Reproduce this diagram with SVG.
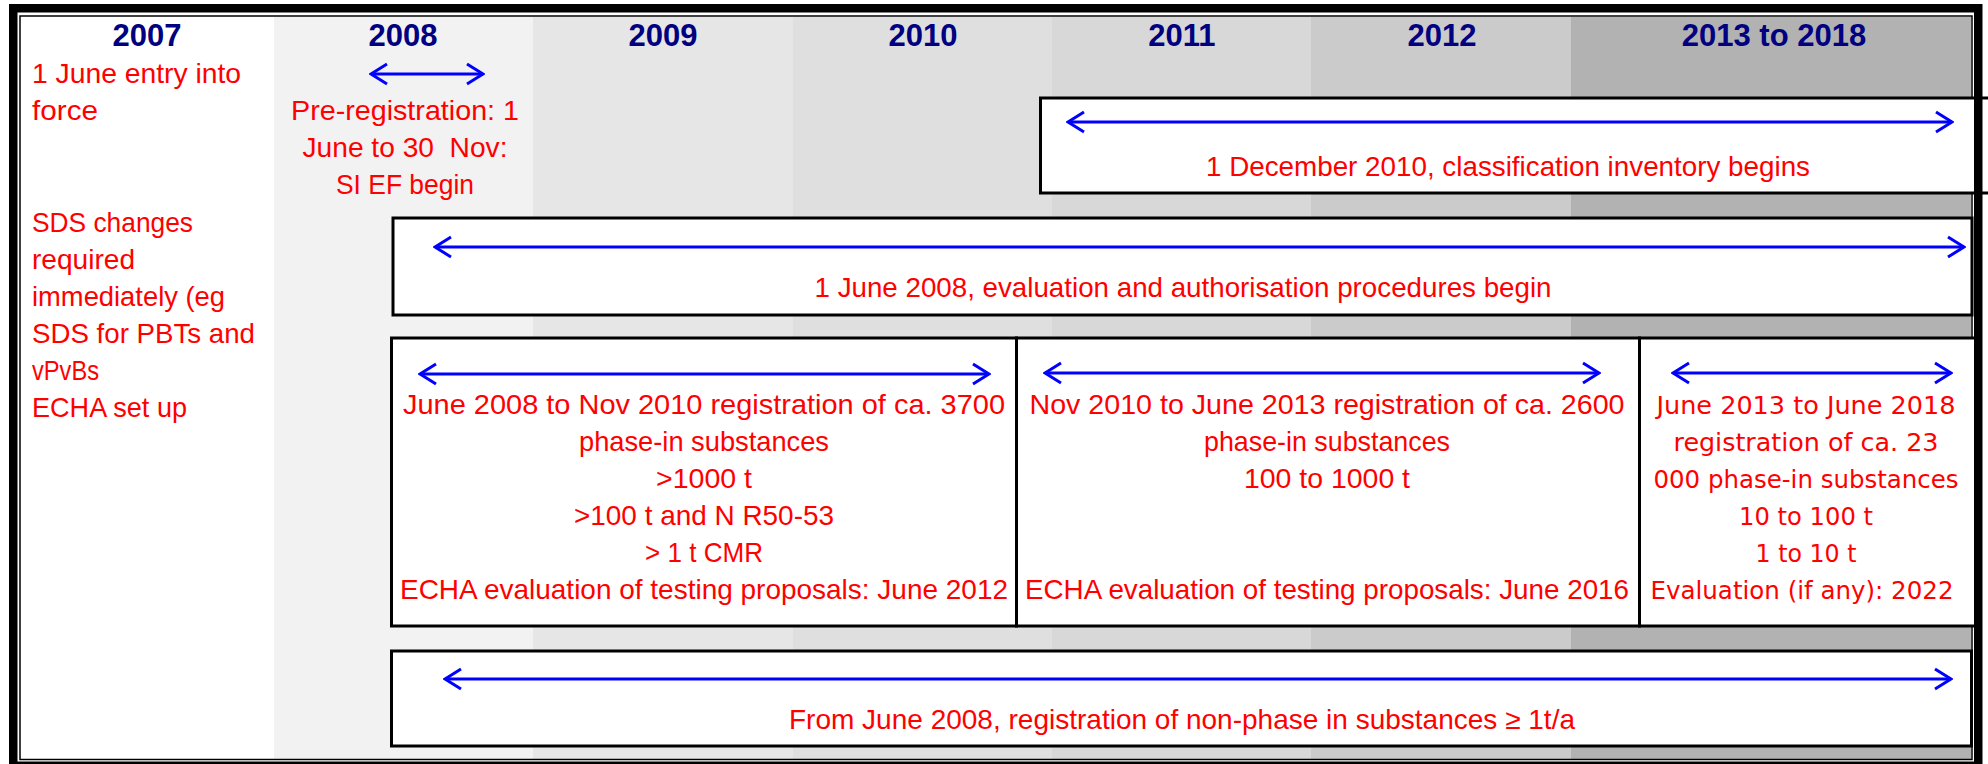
<svg xmlns="http://www.w3.org/2000/svg" width="1988" height="764" viewBox="0 0 1988 764">
<style>
.yr{font-family:"Liberation Sans",Arial,sans-serif;font-weight:bold;font-size:31px;fill:#000080;text-anchor:middle}
.t{font-family:"Liberation Sans",Arial,sans-serif;font-size:28px;fill:#ff0000;white-space:pre}
.v{font-family:"DejaVu Sans",Verdana,sans-serif;font-size:25px;fill:#ff0000;text-anchor:middle;white-space:pre}
.m{text-anchor:middle}
.box{fill:#ffffff;stroke:#000000;stroke-width:3}
.arr{stroke:#0000ff;stroke-width:3;fill:none;marker-start:url(#ah);marker-end:url(#ah)}
</style>
<defs>
<marker id="ah" viewBox="0 0 20 24" refX="18" refY="12" markerWidth="20" markerHeight="24" markerUnits="userSpaceOnUse" orient="auto-start-reverse">
<path d="M2,2 L18,12 L2,22" fill="none" stroke="#0000ff" stroke-width="3"/>
</marker>
</defs>
<rect x="0" y="0" width="1988" height="764" fill="#ffffff"/>
<g id="bands">
<rect x="21" y="17" width="253" height="742" fill="#ffffff"/>
<rect x="274" y="17" width="259" height="742" fill="#f2f2f2"/>
<rect x="533" y="17" width="260" height="742" fill="#e6e6e6"/>
<rect x="793" y="17" width="259" height="742" fill="#dfdfdf"/>
<rect x="1052" y="17" width="259" height="742" fill="#d8d8d8"/>
<rect x="1311" y="17" width="260" height="742" fill="#cbcbcb"/>
<rect x="1571" y="17" width="400" height="742" fill="#b2b2b2"/>
</g>
<rect id="inner-frame" x="20" y="16" width="1952" height="743.5" fill="none" stroke="#000000" stroke-width="1.5"/>
<g id="years">
<text class="yr" x="147" y="46">2007</text>
<text class="yr" x="403" y="46">2008</text>
<text class="yr" x="663" y="46">2009</text>
<text class="yr" x="923" y="46">2010</text>
<text class="yr" x="1182" y="46">2011</text>
<text class="yr" x="1442" y="46">2012</text>
<text class="yr" x="1774" y="46">2013 to 2018</text>
</g>
<g id="entry-into-force">
<text class="t" x="32" y="83" textLength="209" lengthAdjust="spacingAndGlyphs">1 June entry into</text>
<text class="t" x="32" y="120" textLength="66" lengthAdjust="spacingAndGlyphs">force</text>
</g>
<g id="sds-changes">
<text class="t" x="32" y="232" textLength="161" lengthAdjust="spacingAndGlyphs">SDS changes</text>
<text class="t" x="32" y="269" textLength="103" lengthAdjust="spacingAndGlyphs">required</text>
<text class="t" x="32" y="306" textLength="193" lengthAdjust="spacingAndGlyphs">immediately (eg</text>
<text class="t" x="32" y="343" textLength="223" lengthAdjust="spacingAndGlyphs">SDS for PBTs and</text>
<text class="t" x="32" y="380" textLength="67" lengthAdjust="spacingAndGlyphs">vPvBs</text>
<text class="t" x="32" y="417" textLength="155" lengthAdjust="spacingAndGlyphs">ECHA set up</text>
</g>
<g id="pre-registration">
<text class="t m" x="405" y="120" textLength="228" lengthAdjust="spacingAndGlyphs">Pre-registration: 1</text>
<text class="t m" x="405" y="157" textLength="205" lengthAdjust="spacingAndGlyphs">June to 30  Nov:</text>
<text class="t m" x="405" y="194" textLength="138" lengthAdjust="spacingAndGlyphs">SI EF begin</text>
</g>
<g id="classification">
<rect class="box" x="1040.5" y="98" width="1933" height="95"/>
<text class="t m" x="1508" y="176" textLength="604" lengthAdjust="spacingAndGlyphs">1 December 2010, classification inventory begins</text>
</g>
<g id="evaluation">
<rect class="box" x="393" y="218" width="1579" height="97"/>
<text class="t m" x="1183" y="297" textLength="737" lengthAdjust="spacingAndGlyphs">1 June 2008, evaluation and authorisation procedures begin</text>
</g>
<g id="registration-2010">
<rect class="box" x="391.5" y="338" width="625" height="288"/>
<text class="t m" x="704" y="414" textLength="602" lengthAdjust="spacingAndGlyphs">June 2008 to Nov 2010 registration of ca. 3700</text>
<text class="t m" x="704" y="451" textLength="250" lengthAdjust="spacingAndGlyphs">phase-in substances</text>
<text class="t m" x="704" y="488" textLength="96" lengthAdjust="spacingAndGlyphs">&gt;1000 t</text>
<text class="t m" x="704" y="525" textLength="260" lengthAdjust="spacingAndGlyphs">&gt;100 t and N R50-53</text>
<text class="t m" x="704" y="562" textLength="118" lengthAdjust="spacingAndGlyphs">&gt; 1 t CMR</text>
<text class="t m" x="704" y="599" textLength="608" lengthAdjust="spacingAndGlyphs">ECHA evaluation of testing proposals: June 2012</text>
</g>
<g id="registration-2013">
<rect class="box" x="1016.5" y="338" width="623" height="288"/>
<text class="t m" x="1327" y="414" textLength="595" lengthAdjust="spacingAndGlyphs">Nov 2010 to June 2013 registration of ca. 2600</text>
<text class="t m" x="1327" y="451" textLength="246" lengthAdjust="spacingAndGlyphs">phase-in substances</text>
<text class="t m" x="1327" y="488" textLength="166" lengthAdjust="spacingAndGlyphs">100 to 1000 t</text>
<text class="t m" x="1327" y="599" textLength="604" lengthAdjust="spacingAndGlyphs">ECHA evaluation of testing proposals: June 2016</text>
</g>
<g id="registration-2018">
<rect class="box" x="1639.5" y="338" width="337" height="288"/>
<text class="v" x="1806" y="414" textLength="299" lengthAdjust="spacingAndGlyphs">June 2013 to June 2018</text>
<text class="v" x="1806" y="451" textLength="265" lengthAdjust="spacingAndGlyphs">registration of ca. 23</text>
<text class="v" x="1806" y="488" textLength="305" lengthAdjust="spacingAndGlyphs">000 phase-in substances</text>
<text class="v" x="1806" y="525" textLength="134" lengthAdjust="spacingAndGlyphs">10 to 100 t</text>
<text class="v" x="1806" y="562" textLength="101" lengthAdjust="spacingAndGlyphs">1 to 10 t</text>
<text class="v" x="1802" y="599" textLength="303" lengthAdjust="spacingAndGlyphs">Evaluation (if any): 2022</text>
</g>
<g id="non-phase-in">
<rect class="box" x="391.5" y="651" width="1580" height="95"/>
<text class="t m" x="1182" y="729" textLength="786" lengthAdjust="spacingAndGlyphs">From June 2008, registration of non-phase in substances ≥ 1t/a</text>
</g>
<g id="connectors">
<line class="arr" x1="371" y1="74" x2="483" y2="74"/>
<line class="arr" x1="1068" y1="122" x2="1952" y2="122"/>
<line class="arr" x1="435" y1="247" x2="1964" y2="247"/>
<line class="arr" x1="420" y1="374" x2="989" y2="374"/>
<line class="arr" x1="1045" y1="373" x2="1599" y2="373"/>
<line class="arr" x1="1673" y1="373" x2="1951" y2="373"/>
<line class="arr" x1="445" y1="679" x2="1951" y2="679"/>
</g>
<rect id="outer-frame" x="13.25" y="8.25" width="1965" height="757.5" fill="none" stroke="#000000" stroke-width="8.5"/>
</svg>
